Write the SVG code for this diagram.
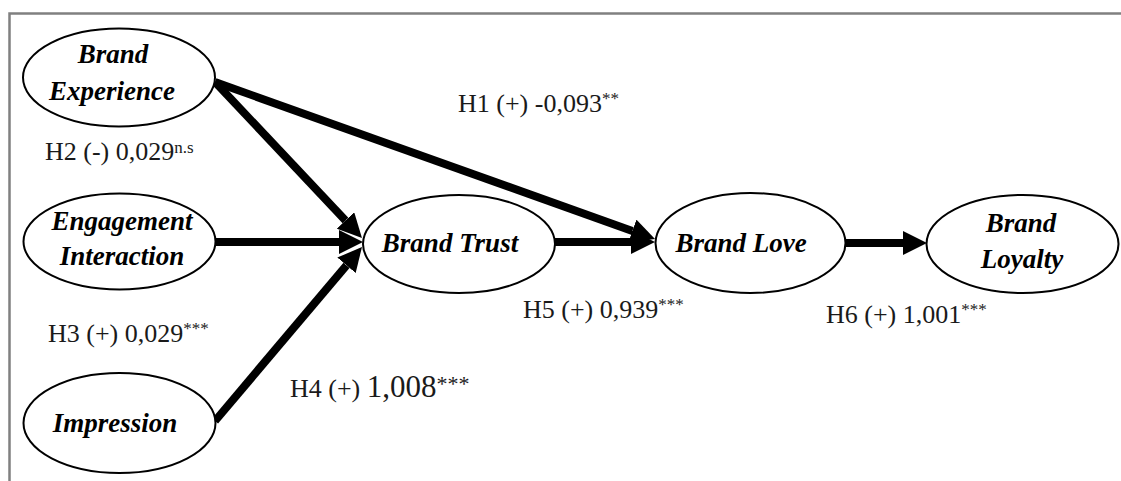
<svg xmlns="http://www.w3.org/2000/svg" width="1121" height="481" viewBox="0 0 1121 481">
<style>
.node{fill:#fff;stroke:#000;stroke-width:2}
.nt{font-family:"Liberation Serif",serif;font-style:italic;font-weight:bold;font-size:27px;fill:#000;text-anchor:middle}
.lbl{font-family:"Liberation Serif",serif;font-size:26px;fill:#1a1a1a}
.sup{font-size:17px}
.edge{stroke:#000;stroke-width:8;fill:none;marker-end:url(#arr)}
.frame{stroke:#808080;stroke-width:2.5;fill:none}
</style>
<defs>
<marker id="arr" markerUnits="userSpaceOnUse" viewBox="0 0 24 24" markerWidth="24" markerHeight="24" refX="0" refY="12" orient="auto">
<path d="M0,0 L24,12 L0,24 z" fill="#000"/>
</marker>
</defs>
<rect width="1121" height="481" fill="#fff"/>
<path class="frame" d="M1121,13.5 H9.5 V481"/>
<g id="connectors">
<line class="edge" x1="215" y1="82" x2="345.5" y2="220.5"/>
<line class="edge" x1="215" y1="82" x2="632.4" y2="230.9"/>
<line class="edge" x1="215" y1="242" x2="339" y2="242"/>
<line class="edge" x1="215" y1="421" x2="346.5" y2="265.3"/>
<line class="edge" x1="555" y1="242" x2="631" y2="242"/>
<line class="edge" x1="846" y1="243" x2="903" y2="243"/>
</g>
<g id="brand-experience">
<ellipse class="node" cx="119" cy="77.5" rx="96" ry="49"/>
<text class="nt" x="113" y="63">Brand</text>
<text class="nt" x="112" y="100">Experience</text>
</g>
<g id="engagement-interaction">
<ellipse class="node" cx="119.5" cy="241.5" rx="96" ry="48"/>
<text class="nt" x="122" y="230">Engagement</text>
<text class="nt" x="122" y="265">Interaction</text>
</g>
<g id="impression">
<ellipse class="node" cx="119.5" cy="423" rx="96" ry="50"/>
<text class="nt" x="115" y="432">Impression</text>
</g>
<g id="brand-trust">
<ellipse class="node" cx="459" cy="244" rx="96" ry="49"/>
<text class="nt" x="450" y="252">Brand Trust</text>
</g>
<g id="brand-love">
<ellipse class="node" cx="750.5" cy="243" rx="95" ry="50"/>
<text class="nt" x="741" y="252">Brand Love</text>
</g>
<g id="brand-loyalty">
<ellipse class="node" cx="1022.5" cy="244" rx="96" ry="49"/>
<text class="nt" x="1021" y="232">Brand</text>
<text class="nt" x="1022" y="268">Loyalty</text>
</g>
<g id="labels">
<text class="lbl" x="458" y="112">H1 (+) -0,093<tspan class="sup" dy="-8">**</tspan></text>
<text class="lbl" x="45" y="160">H2 (-) 0,029<tspan class="sup" dy="-7">n.s</tspan></text>
<text class="lbl" x="48" y="342">H3 (+) 0,029<tspan class="sup" dy="-8">***</tspan></text>
<text class="lbl" x="290" y="397">H4 (+) <tspan font-size="31">1,008</tspan><tspan font-size="22" dy="-6">***</tspan></text>
<text class="lbl" x="523" y="318">H5 (+) 0,939<tspan class="sup" dy="-8">***</tspan></text>
<text class="lbl" x="826" y="323">H6 (+) 1,001<tspan class="sup" dy="-8">***</tspan></text>
</g>
</svg>
